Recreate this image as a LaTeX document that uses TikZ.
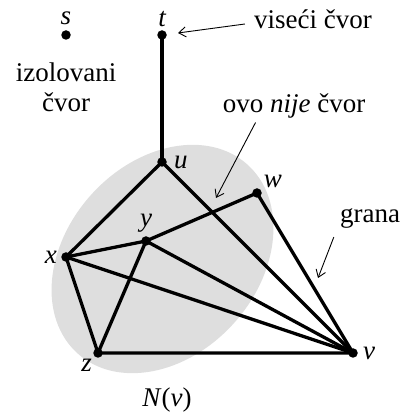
\documentclass[tikz,border=0pt]{standalone}
\usepackage{fontspec}
\setmainfont{Liberation Serif}
\usetikzlibrary{arrows.meta, positioning}
\definecolor{sivo}{HTML}{DEDEDE}

\begin{document}
\begin{tikzpicture}[x=1pt, y=1pt,
    cvor/.style={circle, fill, inner sep=0pt, minimum size=9.5pt},
    oznaka/.style={font=\fontsize{27}{31}\selectfont\itshape, inner sep=1pt},
    tekst/.style={font=\fontsize{27}{30}\selectfont, align=center, inner sep=1pt},
    ivica/.style={line width=3.3pt},
    strelica/.style={-{Straight Barb[length=7pt, width=10pt]}, line width=0.9pt}
]
    \useasboundingbox (0,0) rectangle (409,419);
    \fill[sivo, rotate around={48:(162.5,160)}] (162.5,160) ellipse [x radius=127, y radius=96];

    \node[cvor, label={[oznaka, label distance=4pt]above:s}] (s) at (66,384) {};
    \node[cvor, label={[oznaka, label distance=2pt]above:t}] (t) at (162,384) {};
    \node[cvor, label={[oznaka, label distance=6pt]right:u}] (u) at (162,257) {};
    \node[cvor, label={[oznaka, label distance=2pt]35:w}] (w) at (257,226) {};
    \node[cvor, label={[oznaka, label distance=3pt]above:y}] (y) at (146,178) {};
    \node[cvor, label={[oznaka, label distance=3pt]left:x}] (x) at (66,162) {};
    \node[cvor, label={[oznaka, label distance=2pt]225:z}] (z) at (98,66) {};
    \node[cvor, label={[oznaka, label distance=4pt]right:v}] (v) at (353,66) {};

    \draw[ivica] (t.center) -- (u.center);
    \draw[ivica] (u.center) -- (x.center) -- (z.center) -- (v.center);
    \draw[ivica] (u.center) -- (v.center);
    \draw[ivica] (x.center) -- (y.center) -- (w.center) -- (v.center);
    \draw[ivica] (x.center) -- (v.center);
    \draw[ivica] (y.center) -- (v.center);
    \draw[ivica] (y.center) -- (z.center);

    \node[oznaka] (nv) at (167,19) {N\textup{(}v\textup{)}};
    \node[tekst] (izol) at (66,332) {izolovani\\čvor};
    \node[tekst] (viseci) at (313,400) {viseći čvor};
    \node[tekst] (nije) at (294,313) {ovo \textit{nije} čvor};
    \node[tekst] (lgrana) at (370,201) {grana};

    \coordinate (tvrh) at (178,386);
    \coordinate (presek) at (216,221);
    \coordinate (nagrani) at (318,141);

    \draw[strelica] ([xshift=-8pt, yshift=-5pt]viseci.west) -- (tvrh);
    \draw[strelica] ([xshift=34pt, yshift=-3pt]nije.south west) -- (presek);
    \draw[strelica] ([xshift=-5pt, yshift=-8pt]lgrana.south west) -- (nagrani);
\end{tikzpicture}
\end{document}
